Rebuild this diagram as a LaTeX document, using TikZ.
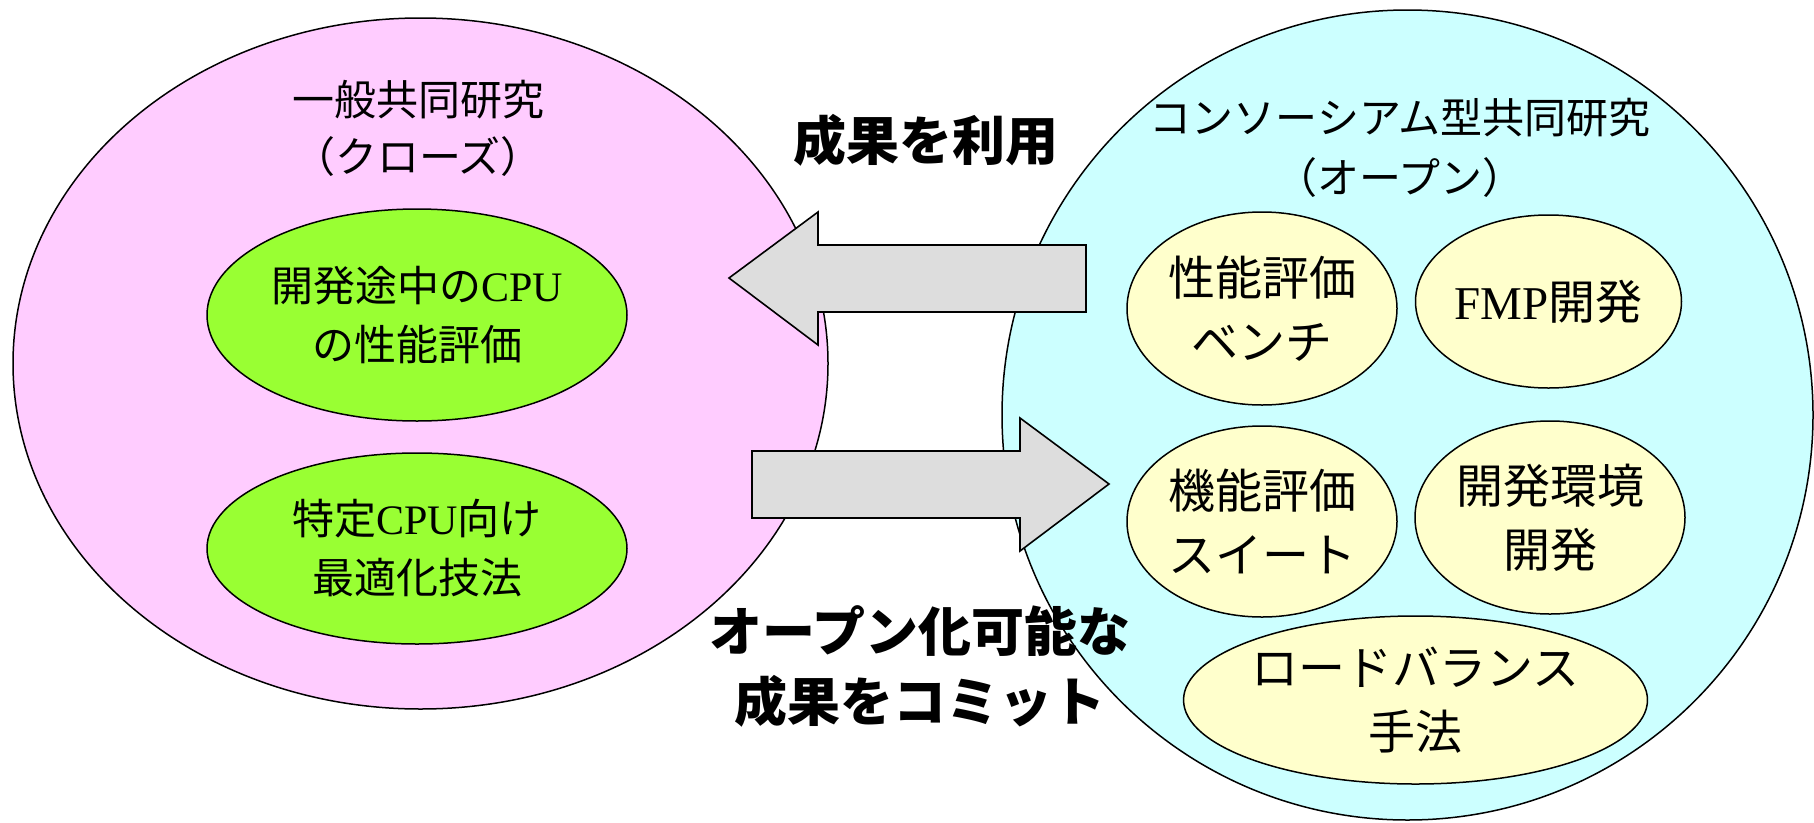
\documentclass[tikz,border=0pt]{standalone}
\usepackage{fontspec}
\setmainfont{Noto Sans CJK JP}
\newfontfamily\lat{Liberation Serif}
\usetikzlibrary{shapes.geometric}
\definecolor{pinkfill}{HTML}{FFCCFF}
\definecolor{cyanfill}{HTML}{CCFFFF}
\definecolor{greenfill}{HTML}{99FF33}
\definecolor{yellowfill}{HTML}{FFFFCC}
\definecolor{greyfill}{HTML}{DDDDDD}
\begin{document}
\begin{tikzpicture}[x=1pt,y=-1pt,
  bigell/.style={ellipse, draw=black, line width=1.5pt, inner sep=0pt},
  greenell/.style={ellipse, draw=black, line width=1.5pt, fill=greenfill, inner sep=0pt, align=center, font={\fontsize{42}{59}\selectfont}},
  yellowell/.style={ellipse, draw=black, line width=1.5pt, fill=yellowfill, inner sep=0pt, align=center, font={\fontsize{47}{64}\selectfont}},
  title/.style={align=center, inner sep=0pt, font={\fontsize{42}{57}\selectfont}},
  label/.style={align=center, inner sep=0pt, font={\fontsize{53}{70}\selectfont\bfseries}},
  blockarrow/.style={draw=black, line width=1.6pt, fill=greyfill, line join=miter}]
\useasboundingbox (0,0) rectangle (1814,822);
% big ellipses
\node[bigell, fill=pinkfill, minimum width=815pt, minimum height=691pt] (L) at (420.5,363.5) {};
\node[bigell, fill=cyanfill, minimum width=811pt, minimum height=810pt] (R) at (1407.5,415) {};
% left contents
\node[title] (Ltitle) at (418,128) {一般共同研究\\（クローズ）};
\node[greenell, minimum width=420pt, minimum height=212pt] (G1) at (417,315) {開発途中の{\lat CPU}\\の性能評価};
\node[greenell, minimum width=420pt, minimum height=191pt] (G2) at (417,548.5) {特定{\lat CPU}向け\\最適化技法};
% right contents
\node[title, font={\fontsize{42}{60}\selectfont}] (Rtitle) at (1400,148) {コンソーシアム型共同研究\\（オープン）};
\node[yellowell, minimum width=270pt, minimum height=193pt] (Y1) at (1262,308.5) {性能評価\\ベンチ};
\node[yellowell, minimum width=243pt, minimum height=173pt] (Y2) at (1548.5,301.5) {{\lat FMP}開発};
\node[yellowell, minimum width=270pt, minimum height=191pt] (Y3) at (1262,521.5) {機能評価\\スイート};
\node[yellowell, minimum width=270pt, minimum height=193pt] (Y4) at (1550,517.5) {開発環境\\開発};
\node[yellowell, minimum width=405pt, minimum height=168pt] (Y5) at (1415.5,700) {ロードバランス\\手法};
% block arrows
\draw[blockarrow] (729,278) -- (818,212) -- (818,245) -- (1086,245) -- (1086,312) -- (818,312) -- (818,345) -- cycle;
\draw[blockarrow] (752,451) -- (1020,451) -- (1020,418) -- (1109,484) -- (1020,551) -- (1020,518) -- (752,518) -- cycle;
% labels
\node[label] (use) at (926,140) {成果を利用};
\node[label] (commit) at (920,666) {オープン化可能な\\成果をコミット};
\end{tikzpicture}
\end{document}
